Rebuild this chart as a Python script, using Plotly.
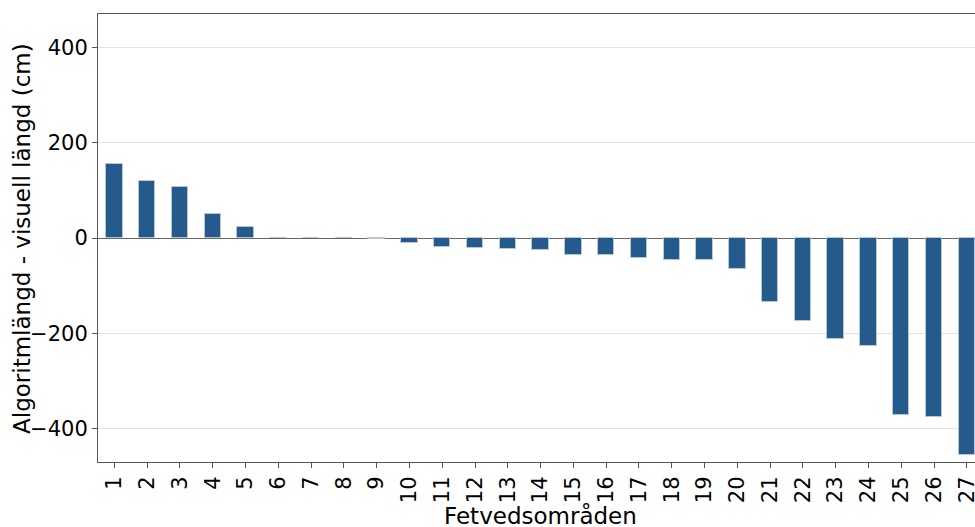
import plotly.graph_objects as go

categories = [str(i) for i in range(1, 28)]
values = [155, 119, 106, 51, 24, -0.5, -0.5, -0.5, -3, -10, -19, -22, -24, -25,
          -35, -35, -42, -46, -47, -64, -134, -175, -212, -226, -372, -375, -456]

x_pos = list(range(1, 28))

fig = go.Figure()
fig.add_trace(go.Bar(
    x=x_pos, y=values, width=0.5,
    marker=dict(color="#245a8c", line=dict(color="#b8c6d6", width=1)),
))

font_family = "DejaVu Sans"
fig.update_layout(
    width=975, height=527,
    margin=dict(l=98, r=0, t=14, b=65, autoexpand=False),
    plot_bgcolor="white", paper_bgcolor="white",
    showlegend=False,
    font=dict(family=font_family, color="black"),
    bargap=0,
)
fig.update_xaxes(
    range=[0.5, 27.25],
    tickmode="array", tickvals=x_pos, ticktext=categories,
    tickangle=-90, tickfont=dict(size=21, family=font_family),
    ticklabeloverflow="allow",
    ticks="outside", ticklen=5, tickcolor="#555555",
    showline=True, linecolor="#555555", linewidth=1, mirror=True,
    showgrid=False, zeroline=False, automargin=False,
)
fig.update_yaxes(
    range=[-470, 470],
    tickvals=[-400, -200, 0, 200, 400],
    tickfont=dict(size=21, family=font_family),
    ticks="outside", ticklen=5, tickcolor="#555555",
    showline=True, linecolor="#555555", linewidth=1,
    showgrid=True, gridcolor="#e2e2e2", gridwidth=1,
    zeroline=True, zerolinecolor="#666666", zerolinewidth=1, automargin=False,
)
fig.add_annotation(
    text="Algoritmlängd - visuell längd (cm)", xref="paper", yref="paper",
    x=-0.0867, y=0.5, xanchor="center", yanchor="middle", textangle=-90,
    showarrow=False, font=dict(size=23, family=font_family, color="black"),
)
fig.add_annotation(
    text="Fetvedsområden", xref="paper", yref="paper",
    x=0.504, y=-0.119, xanchor="center", yanchor="middle",
    showarrow=False, font=dict(size=23, family=font_family, color="black"),
)

fig.write_html(
    "out.html",
    config={"displayModeBar": False},
    post_script="document.body.style.margin='0';document.body.style.overflow='hidden';",
)
